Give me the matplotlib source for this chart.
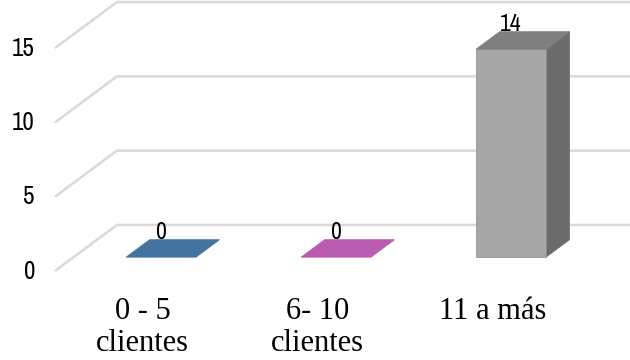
import matplotlib
matplotlib.use("Agg")
from matplotlib import pyplot as plt
from matplotlib import font_manager
from matplotlib.patches import Polygon

# clientes atendidos por rango
categorias = ["0 - 5\nclientes", "6- 10\nclientes", "11 a más"]
valores = [0, 0, 14]
ticks = [0, 5, 10, 15]

frente = ["#44739f", "#b95bb0", "#a6a6a6"]
techo = ["#44739f", "#b95bb0", "#7f7f7f"]
lado = ["#35597c", "#8f4689", "#6b6b6b"]

# tipografia angosta para numeros, la primera que exista
nombres = {f.name for f in font_manager.fontManager.ttflist}
fuente_num, ancho_num = "DejaVu Sans", "condensed"
for cand in ["Liberation Sans Narrow", "Arial Narrow", "Archivo Narrow"]:
    if cand in nombres:
        fuente_num, ancho_num = cand, "normal"
        break
fuente_cat = "Liberation Serif"

# desplazamiento oblicuo de la profundidad (en unidades de categoria / valor)
DX = 0.354
DY = 3.10


def proj(x, y, d):
    return (x + d * DX, y + d * DY)


fig = plt.figure(figsize=(6.3, 3.6), dpi=100)
ax = fig.add_axes([0, 0, 1, 1])
ax.set_xlim(-0.814, 2.786)
ax.set_ylim(-5.99, 18.24)
ax.axis("off")

# rejilla: tramo lateral y pared de fondo
for t in ticks:
    p0 = proj(-0.5, t, 0)
    p1 = proj(-0.5, t, 1)
    p2 = proj(3.0, t, 1)
    ax.plot([p0[0], p1[0], p2[0]], [p0[1], p1[1], p2[1]],
            color="#d9d9d9", lw=1.8, zorder=1, solid_capstyle="butt")
    ax.text(p0[0] - 0.114, p0[1], str(t), ha="right", va="center",
            fontsize=18, family=fuente_num, stretch=ancho_num, color="#000000")

w = 0.2
d0, d1 = 0.30, 0.68
for i, v in enumerate(valores):
    # cara frontal
    cara = [proj(i - w, 0, d0), proj(i + w, 0, d0), proj(i + w, v, d0), proj(i - w, v, d0)]
    # cara superior
    sup = [proj(i - w, v, d0), proj(i + w, v, d0), proj(i + w, v, d1), proj(i - w, v, d1)]
    # cara lateral derecha
    lat = [proj(i + w, 0, d0), proj(i + w, v, d0), proj(i + w, v, d1), proj(i + w, 0, d1)]
    if v > 0:
        ax.add_patch(Polygon(lat, closed=True, facecolor=lado[i], edgecolor=lado[i], lw=0.5, zorder=3))
        ax.add_patch(Polygon(cara, closed=True, facecolor=frente[i], edgecolor="#8a8a8a", lw=0.5, zorder=4))
    ax.add_patch(Polygon(sup, closed=True, facecolor=techo[i], edgecolor=techo[i], lw=0.5, zorder=4))

    lx = proj(i, v, d0)[0]
    ly = proj(i, v, d1)[1]
    ax.text(lx, ly + 0.05, str(v), ha="center", va="baseline",
            fontsize=17, family=fuente_num, stretch=ancho_num, color="#000000", zorder=5)

    ax.text(i, -1.72, categorias[i], ha="center", va="top", fontsize=22,
            family=fuente_cat, linespacing=1.17, color="#000000")

fig.savefig("out.png", dpi=100)
